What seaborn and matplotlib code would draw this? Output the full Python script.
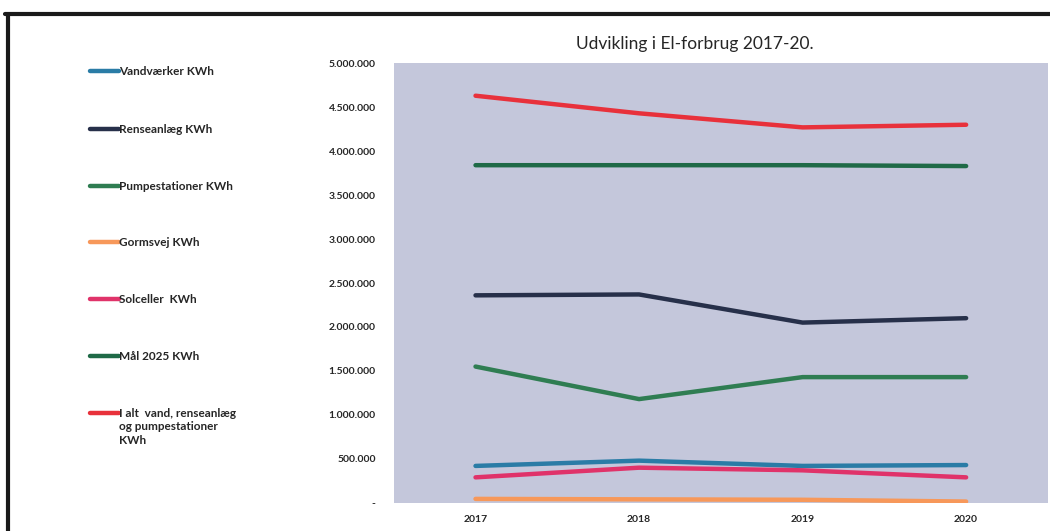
import pandas as pd
import matplotlib.pyplot as plt
import seaborn as sns
from matplotlib.lines import Line2D
from matplotlib.ticker import FuncFormatter

# Data
years = ['2017', '2018', '2019', '2020']
series_names = ['Vandværker KWh', 'Renseanlæg KWh', 'Pumpestationer KWh', 'Gormsvej KWh',
                'Solceller  KWh', 'Mål 2025 KWh', 'I alt  vand, renseanlæg\nog pumpestationer\nKWh']
vandvaerker = [420000, 480000, 420000, 430000]
renseanlaeg = [2360000, 2370000, 2050000, 2100000]
pumpestationer = [1550000, 1180000, 1430000, 1430000]
gormsvej = [45000, 40000, 35000, 15000]
solceller = [290000, 400000, 370000, 290000]
maal_2025 = [3840000, 3840000, 3840000, 3830000]
i_alt = [4630000, 4430000, 4270000, 4300000]
colors = ['#2a7ca6', '#27304a', '#2f7d52', '#f7985a', '#e0336a', '#1f6a47', '#e8313b']

values = [vandvaerker, renseanlaeg, pumpestationer, gormsvej, solceller, maal_2025, i_alt]
rows = []
for name, vals in zip(series_names, values):
    for y, v in zip(years, vals):
        rows.append({'Year': y, 'kWh': v, 'Serie': name})
df = pd.DataFrame(rows)

sns.set_style('white')
plt.rcParams['font.family'] = ['Lato', 'DejaVu Sans']

fig = plt.figure(figsize=(10.5, 5.31), dpi=100)
ax = fig.add_axes([0.375, 0.053, 0.623, 0.828])
ax.set_facecolor('#c4c7db')

sns.lineplot(data=df, x='Year', y='kWh', hue='Serie', palette=colors,
             hue_order=series_names, linewidth=3.2, legend=False, ax=ax, sort=False)

ax.set_xlim(-0.5, 3.5)
ax.set_ylim(0, 5000000)
ax.set_yticks(range(0, 5000001, 500000))
ax.yaxis.set_major_formatter(FuncFormatter(
    lambda v, p: '-' if v == 0 else f'{int(v):,}'.replace(',', '.')))
ax.tick_params(axis='both', length=0, labelsize=7.5)
ax.tick_params(axis='y', pad=13)
ax.tick_params(axis='x', pad=9)
for lab in ax.get_xticklabels() + ax.get_yticklabels():
    lab.set_fontweight('bold')
ax.set_xlabel('')
ax.set_ylabel('')
for s in ax.spines.values():
    s.set_visible(False)

fig.text(0.662, 0.918, 'Udvikling i El-forbrug 2017-20.', ha='center', va='center', fontsize=12.5)

# Legend on the left side
W, H = 1050, 531
legend_y = [71, 129, 186, 242, 299, 356, 413]
for name, c, yp in zip(series_names, colors, legend_y):
    fy = 1 - yp / H
    fig.add_artist(Line2D([90 / W, 119 / W], [fy, fy], color=c, linewidth=3.2))
    fig.text(119 / W, fy + 5 / H, name, ha='left', va='top', fontsize=8.5,
             fontweight='bold', linespacing=1.25)

# Frame lines of the scanned page
fig.add_artist(Line2D([5 / W, 1], [1 - 14 / H, 1 - 14 / H], color='#1a1a1a', linewidth=3))
fig.add_artist(Line2D([8 / W, 8 / W], [0, 1 - 14 / H], color='#1a1a1a', linewidth=3))

fig.savefig('out.png', dpi=100)
